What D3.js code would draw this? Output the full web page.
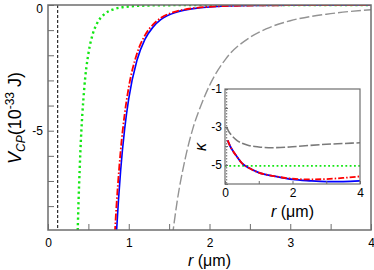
<!DOCTYPE html>
<html>
<head>
<meta charset="utf-8">
<script src="https://cdn.jsdelivr.net/npm/d3@7"></script>
<style>
  body { margin: 0; background: #fff; }
  svg { display: block; font-family: "Liberation Sans", Arial, sans-serif; }
</style>
</head>
<body>
<svg id="chart" width="374" height="270"></svg>
<script>
// main panel: V_CP(r)
const rBlue = [0.84, 0.85, 0.9, 0.95, 1.0, 1.1, 1.2, 1.3, 1.4, 1.6, 1.8, 2.0, 2.5, 3.0, 4.0];
const vBlue = [-9.54, -8.95, -6.57, -4.91, -3.72, -2.22, -1.37, -0.88, -0.575, -0.276, -0.144, -0.078, -0.022, -0.008, -0.002];
const rRed = [0.82, 0.83, 0.9, 0.95, 1.0, 1.1, 1.2, 1.3, 1.4, 1.6, 1.8, 2.0, 2.5, 3.0, 4.0];
const vRed = [-9.57, -8.96, -5.78, -4.32, -3.27, -1.95, -1.21, -0.78, -0.51, -0.245, -0.127, -0.07, -0.02, -0.008, -0.002];
const rGreen = [0.36, 0.37, 0.4, 0.45, 0.5, 0.55, 0.6, 0.7, 0.8, 1.0, 1.3, 1.6, 2.0, 3.0, 4.0];
const vGreen = [-10.0, -8.73, -5.91, -3.28, -1.94, -1.2, -0.78, -0.36, -0.185, -0.06, -0.016, -0.006, -0.002, -0.0003, -0.0001];
const rGray = [1.54, 1.6, 1.7, 1.8, 1.9, 2.0, 2.2, 2.5, 2.7, 3.0, 3.5, 4.0];
const vGray = [-9.2, -7.8, -6.1, -4.85, -3.95, -3.2, -2.15, -1.29, -0.95, -0.627, -0.344, -0.19];
const rMarker = 0.12;

// inset: kappa(r)
const kR = [0.08, 0.15, 0.25, 0.35, 0.5, 0.7, 1.0, 1.5, 2.0, 2.5, 3.0, 3.5, 4.0];
const kBlue = [-3.7, -4.0, -4.3, -4.55, -4.9, -5.15, -5.4, -5.6, -5.76, -5.83, -5.87, -5.87, -5.84];
const kRed = [-3.7, -4.0, -4.3, -4.55, -4.9, -5.15, -5.4, -5.6, -5.72, -5.76, -5.74, -5.68, -5.6];
const kGrayR = [0.05, 0.1, 0.2, 0.35, 0.5, 0.7, 1.0, 1.4, 2.0, 2.5, 3.0, 3.5, 4.0];
const kGray = [-3.0, -3.2, -3.45, -3.7, -3.85, -3.97, -4.05, -4.09, -4.04, -3.97, -3.91, -3.87, -3.83];
const kGreenR = [0, 4];
const kGreen = [-5.05, -5.05];
const kMarker = 0.05;

const xTicks = [0, 1, 2, 3, 4];
const xMinor = [0.5, 1.5, 2.5, 3.5];
const yTicks = [0, -5];
const yMinor = [-1, -2, -3, -4, -6, -7, -8];
const kxTicks = [0, 2, 4];
const kxMinor = [1, 3];
const kyTicks = [-1, -3, -5];
const kyMinor = [-2, -4, -6];

const axisColor = "#6e6e6e";
const svg = d3.select("#chart");

const main = { left: 48, right: 371, top: 5, bottom: 230 };
const x = d3.scaleLinear().domain([0, 4]).range([main.left, main.right]);
const y = d3.scaleLinear().domain([-8.95, 0]).range([main.bottom, main.top]);

svg.append("clipPath").attr("id", "clipMain")
  .append("rect")
  .attr("x", main.left).attr("y", main.top)
  .attr("width", main.right - main.left).attr("height", main.bottom - main.top);

const zip = (a, b) => a.map((d, i) => [d, b[i]]);

function drawSeries(g, xs, ys, pts, style) {
  const line = d3.line()
    .x(d => xs(d[0]))
    .y(d => ys(d[1]))
    .curve(d3.curveMonotoneX);
  g.append("path")
    .attr("d", line(pts))
    .attr("fill", "none")
    .attr("stroke", style.color)
    .attr("stroke-width", style.width)
    .attr("stroke-dasharray", style.dash || null);
}

const styles = {
  gray: { color: "#939393", width: 1.4, dash: "10,3" },
  green: { color: "#14e614", width: 2.4, dash: "2.2,3" },
  blue: { color: "#0000ff", width: 1.6 },
  red: { color: "#ff0000", width: 1.8, dash: "7,2,1.5,2" },
};

const mainG = svg.append("g").attr("clip-path", "url(#clipMain)");
mainG.append("line")
  .attr("x1", x(rMarker)).attr("x2", x(rMarker))
  .attr("y1", main.top).attr("y2", main.bottom)
  .attr("stroke", "#000").attr("stroke-width", 1).attr("stroke-dasharray", "3,2");
drawSeries(mainG, x, y, zip(rGray, vGray), styles.gray);
drawSeries(mainG, x, y, zip(rGreen, vGreen), styles.green);
drawSeries(mainG, x, y, zip(rBlue, vBlue), styles.blue);
drawSeries(mainG, x, y, zip(rRed, vRed), styles.red);

// main axes, ticks inward
function frame(g, box, color, w) {
  g.append("rect")
    .attr("x", box.left).attr("y", box.top)
    .attr("width", box.right - box.left).attr("height", box.bottom - box.top)
    .attr("fill", "none").attr("stroke", color).attr("stroke-width", w);
}

const xAxis = svg.append("g").attr("transform", `translate(0,${main.bottom})`)
  .call(d3.axisBottom(x).tickValues(xTicks).tickSize(-6).tickPadding(8).tickFormat(d3.format("d")));
const xAxisMinor = svg.append("g").attr("transform", `translate(0,${main.bottom})`)
  .call(d3.axisBottom(x).tickValues(xMinor).tickSize(-6).tickFormat(""));
const yAxis = svg.append("g").attr("transform", `translate(${main.left},0)`)
  .call(d3.axisLeft(y).tickValues(yTicks).tickSize(-6).tickPadding(5).tickFormat(d3.format("d")));
const yAxisMinor = svg.append("g").attr("transform", `translate(${main.left},0)`)
  .call(d3.axisLeft(y).tickValues(yMinor).tickSize(-6).tickFormat(""));

[xAxis, xAxisMinor, yAxis, yAxisMinor].forEach(a => {
  a.select(".domain").remove();
  a.selectAll(".tick line").attr("stroke", axisColor).attr("stroke-width", 1);
  a.selectAll(".tick text").attr("font-size", 12).attr("fill", "#000")
    .attr("font-family", "Liberation Sans, Arial, sans-serif");
});
yAxis.selectAll(".tick text")
  .text(d => d === 0 ? "0" : "-" + Math.abs(d))
  .attr("dy", d => d === 0 ? "0.62em" : "0.32em");
frame(svg, main, axisColor, 1.5);

svg.append("text")
  .attr("x", (main.left + main.right) / 2).attr("y", 266)
  .attr("text-anchor", "middle").attr("font-size", 16)
  .html('<tspan font-style="italic">r</tspan> (μm)');

svg.append("text")
  .attr("transform", "translate(21,118) rotate(-90)")
  .attr("text-anchor", "middle").attr("font-size", 18)
  .html('<tspan font-style="italic">V</tspan><tspan font-style="italic" font-size="12" dy="4">CP</tspan>' +
        '<tspan dy="-4">(10</tspan><tspan font-size="12" dy="-7">-33</tspan><tspan dy="7"> J)</tspan>');

// inset
const ins = { left: 225, right: 360, top: 89, bottom: 184 };
const kx = d3.scaleLinear().domain([0, 4]).range([ins.left, ins.right]);
const ky = d3.scaleLinear().domain([-6, -1]).range([ins.bottom, ins.top]);

svg.append("rect")
  .attr("x", ins.left).attr("y", ins.top)
  .attr("width", ins.right - ins.left).attr("height", ins.bottom - ins.top)
  .attr("fill", "#fff");

svg.append("clipPath").attr("id", "clipInset")
  .append("rect")
  .attr("x", ins.left).attr("y", ins.top)
  .attr("width", ins.right - ins.left).attr("height", ins.bottom - ins.top);

const insG = svg.append("g").attr("clip-path", "url(#clipInset)");
insG.append("line")
  .attr("x1", kx(kMarker)).attr("x2", kx(kMarker))
  .attr("y1", ins.top).attr("y2", ins.bottom)
  .attr("stroke", "#444").attr("stroke-width", 0.8).attr("stroke-dasharray", "1.5,1.5");
drawSeries(insG, kx, ky, zip(kGrayR, kGray), { color: "#7a7a7a", width: 1.6, dash: "9,2.5" });
drawSeries(insG, kx, ky, zip(kGreenR, kGreen), { color: "#14e614", width: 1.8, dash: "1.8,2.5" });
drawSeries(insG, kx, ky, zip(kR, kBlue), { color: "#0000ff", width: 1.8 });
drawSeries(insG, kx, ky, zip(kR, kRed), { color: "#ff0000", width: 1.8, dash: "6,2,1.5,2" });

const kxAxis = svg.append("g").attr("transform", `translate(0,${ins.bottom})`)
  .call(d3.axisBottom(kx).tickValues(kxTicks).tickSize(-3).tickPadding(4).tickFormat(d3.format("d")));
const kxAxisMinor = svg.append("g").attr("transform", `translate(0,${ins.bottom})`)
  .call(d3.axisBottom(kx).tickValues(kxMinor).tickSize(-3).tickFormat(""));
const kyAxis = svg.append("g").attr("transform", `translate(${ins.left},0)`)
  .call(d3.axisLeft(ky).tickValues(kyTicks).tickSize(-3).tickPadding(3));
const kyAxisMinor = svg.append("g").attr("transform", `translate(${ins.left},0)`)
  .call(d3.axisLeft(ky).tickValues(kyMinor).tickSize(-3).tickFormat(""));

[kxAxis, kxAxisMinor, kyAxis, kyAxisMinor].forEach(a => {
  a.select(".domain").remove();
  a.selectAll(".tick line").attr("stroke", axisColor).attr("stroke-width", 1);
  a.selectAll(".tick text").attr("font-size", 12).attr("fill", "#000")
    .attr("font-family", "Liberation Sans, Arial, sans-serif");
});
kyAxis.selectAll(".tick text").text(d => "-" + Math.abs(d));
frame(svg, ins, axisColor, 1.2);

svg.append("text")
  .attr("x", (ins.left + ins.right) / 2).attr("y", 217)
  .attr("text-anchor", "middle").attr("font-size", 16)
  .html('<tspan font-style="italic">r</tspan> (μm)');

svg.append("text")
  .attr("transform", "translate(206,147) rotate(-90)")
  .attr("text-anchor", "middle").attr("font-size", 16).attr("font-style", "italic")
  .text("κ");
</script>
</body>
</html>
